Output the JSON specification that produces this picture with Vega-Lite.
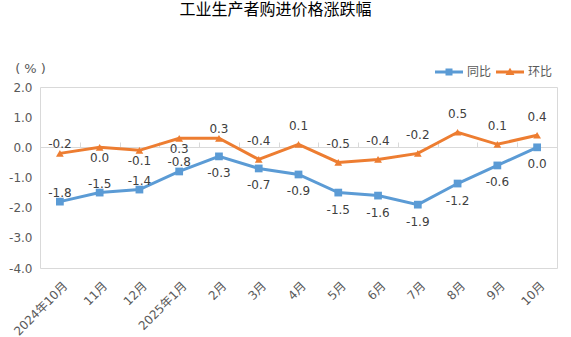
{
  "$schema": "https://vega.github.io/schema/vega-lite/v6.json",
  "width": 517,
  "height": 181,
  "autosize": {"type": "none"},
  "padding": {"left": 40, "top": 87, "right": 14, "bottom": 69},
  "background": "white",
  "config": {
    "font": "DejaVu Sans, Noto Sans CJK SC",
    "locale": {"number": {"decimal": ".", "thousands": ",", "grouping": [3], "currency": ["", ""], "minus": "-"}},
    "view": {"stroke": "#d9d9d9", "strokeWidth": 1},
    "axis": {"grid": false, "labelColor": "#595959", "labelFontSize": 12, "domainColor": "#d9d9d9", "tickColor": "#d9d9d9"},
    "axisY": {"labelOverlap": false, "labelSeparation": 0, "labelBound": false}
  },
  "title": {"text": "工业生产者购进价格涨跌幅", "fontSize": 16, "fontWeight": "normal", "color": "#000000", "anchor": "middle", "offset": 24, "baseline": "bottom", "dx": -23},
  "data": {"values": [
    {"month": "2024年10月", "series": "同比", "value": -1.8},
    {"month": "11月", "series": "同比", "value": -1.5},
    {"month": "12月", "series": "同比", "value": -1.4},
    {"month": "2025年1月", "series": "同比", "value": -0.8},
    {"month": "2月", "series": "同比", "value": -0.3},
    {"month": "3月", "series": "同比", "value": -0.7},
    {"month": "4月", "series": "同比", "value": -0.9},
    {"month": "5月", "series": "同比", "value": -1.5},
    {"month": "6月", "series": "同比", "value": -1.6},
    {"month": "7月", "series": "同比", "value": -1.9},
    {"month": "8月", "series": "同比", "value": -1.2},
    {"month": "9月", "series": "同比", "value": -0.6},
    {"month": "10月", "series": "同比", "value": 0.0},
    {"month": "2024年10月", "series": "环比", "value": -0.2},
    {"month": "11月", "series": "环比", "value": 0.0},
    {"month": "12月", "series": "环比", "value": -0.1},
    {"month": "2025年1月", "series": "环比", "value": 0.3},
    {"month": "2月", "series": "环比", "value": 0.3},
    {"month": "3月", "series": "环比", "value": -0.4},
    {"month": "4月", "series": "环比", "value": 0.1},
    {"month": "5月", "series": "环比", "value": -0.5},
    {"month": "6月", "series": "环比", "value": -0.4},
    {"month": "7月", "series": "环比", "value": -0.2},
    {"month": "8月", "series": "环比", "value": 0.5},
    {"month": "9月", "series": "环比", "value": 0.1},
    {"month": "10月", "series": "环比", "value": 0.4}
  ]},
  "encoding": {
    "y": {"field": "value", "type": "quantitative",
          "scale": {"domain": [-4, 2], "nice": false},
          "axis": {"values": [-4, -3, -2, -1, 0, 1, 2], "tickCount": 7, "format": ".1f", "domain": false, "ticks": false, "labelPadding": 8, "labelOverlap": false,
                   "title": "( % )", "titleFont": "DejaVu Sans", "titleAngle": 0, "titleAlign": "center", "titleBaseline": "middle", "titleX": -10, "titleY": -19,
                   "titleColor": "#595959", "titleFontSize": 13, "titleFontWeight": "normal"}}
  },
  "layer": [
    {
      "mark": {"type": "line", "strokeWidth": 3},
      "encoding": {
        "x": {"field": "month", "type": "ordinal", "sort": null,
              "scale": {"type": "band", "paddingInner": 0, "paddingOuter": 0},
              "axis": {"orient": "bottom", "title": null, "domain": false, "ticks": false, "labelAngle": -45, "labelAlign": "right", "labelBaseline": "top", "labelPadding": 12, "labelOffset": 2}},
        "color": {"field": "series", "type": "nominal",
                  "scale": {"domain": ["同比", "环比"], "range": ["#5B9BD5", "#ED7D31"]},
                  "legend": {"orient": "none", "legendX": 395, "legendY": -29, "direction": "horizontal", "title": null,
                             "labelFontSize": 12, "labelColor": "#595959", "labelOffset": 4, "columnPadding": 4, "symbolSize": 784,
                             "encode": {"symbols": {"update": {
                               "shape": {"signal": "datum.value == '同比' ? 'M-1,-0.1H1V0.1H-1Z M-0.25,-0.25H0.25V0.25H-0.25Z' : 'M-1,-0.1H1V0.1H-1Z M0,-0.3L0.32,0.22H-0.32Z'"},
                               "fill": {"signal": "datum.value == '同比' ? '#5B9BD5' : '#ED7D31'"},
                               "stroke": {"value": "transparent"},
                               "strokeWidth": {"value": 0},
                               "opacity": {"value": 1},
                               "size": {"value": 784}}}}}}
      }
    },
    {
      "transform": [{"filter": "datum.series == '同比'"}],
      "mark": {"type": "point", "filled": true, "opacity": 1, "shape": "square", "size": 60},
      "encoding": {
        "x": {"field": "month", "type": "ordinal", "sort": null,
              "axis": {"orient": "top", "offset": -60, "title": null, "labels": false, "domain": true, "ticks": true, "tickBand": "extent", "tickSize": 5}},
        "color": {"field": "series", "type": "nominal"}
      }
    },
    {
      "transform": [{"filter": "datum.series == '环比'"}],
      "mark": {"type": "point", "filled": true, "opacity": 1, "shape": "triangle-up", "size": 60},
      "encoding": {
        "x": {"field": "month", "type": "ordinal", "sort": null, "axis": null},
        "color": {"field": "series", "type": "nominal"}
      }
    },
    {
      "transform": [{"filter": "datum.series == '环比' && indexof(['2024年10月','11月','12月','2025年1月','2月','3月','4月','5月','6月','7月','8月','9月','10月'], datum.month) >= 5"}],
      "mark": {"type": "text", "dy": -18, "fontSize": 12, "color": "#404040"},
      "encoding": {
        "x": {"field": "month", "type": "ordinal", "sort": null, "axis": null},
        "text": {"field": "value", "type": "quantitative", "format": ".1f"}
      }
    },
    {
      "transform": [{"filter": "datum.series == '同比' && indexof(['2024年10月','11月','12月','2025年1月','2月','3月','4月','5月','6月','7月','8月','9月','10月'], datum.month) >= 4"}],
      "mark": {"type": "text", "dy": 17, "fontSize": 12, "color": "#404040"},
      "encoding": {
        "x": {"field": "month", "type": "ordinal", "sort": null, "axis": null},
        "text": {"field": "value", "type": "quantitative", "format": ".1f"}
      }
    },
    {
      "transform": [{"filter": "(datum.series == '同比' && indexof(['2024年10月','11月','12月','2025年1月'], datum.month) >= 0) || (datum.series == '环比' && (datum.month == '2024年10月' || datum.month == '2月'))"}],
      "mark": {"type": "text", "dy": -9, "fontSize": 12, "color": "#404040"},
      "encoding": {
        "x": {"field": "month", "type": "ordinal", "sort": null, "axis": null},
        "text": {"field": "value", "type": "quantitative", "format": ".1f"}
      }
    },
    {
      "transform": [{"filter": "datum.series == '环比' && indexof(['11月','12月','2025年1月'], datum.month) >= 0"}],
      "mark": {"type": "text", "dy": 11, "fontSize": 12, "color": "#404040"},
      "encoding": {
        "x": {"field": "month", "type": "ordinal", "sort": null, "axis": null},
        "text": {"field": "value", "type": "quantitative", "format": ".1f"}
      }
    }
  ],
  "resolve": {"axis": {"x": "independent"}}
}
